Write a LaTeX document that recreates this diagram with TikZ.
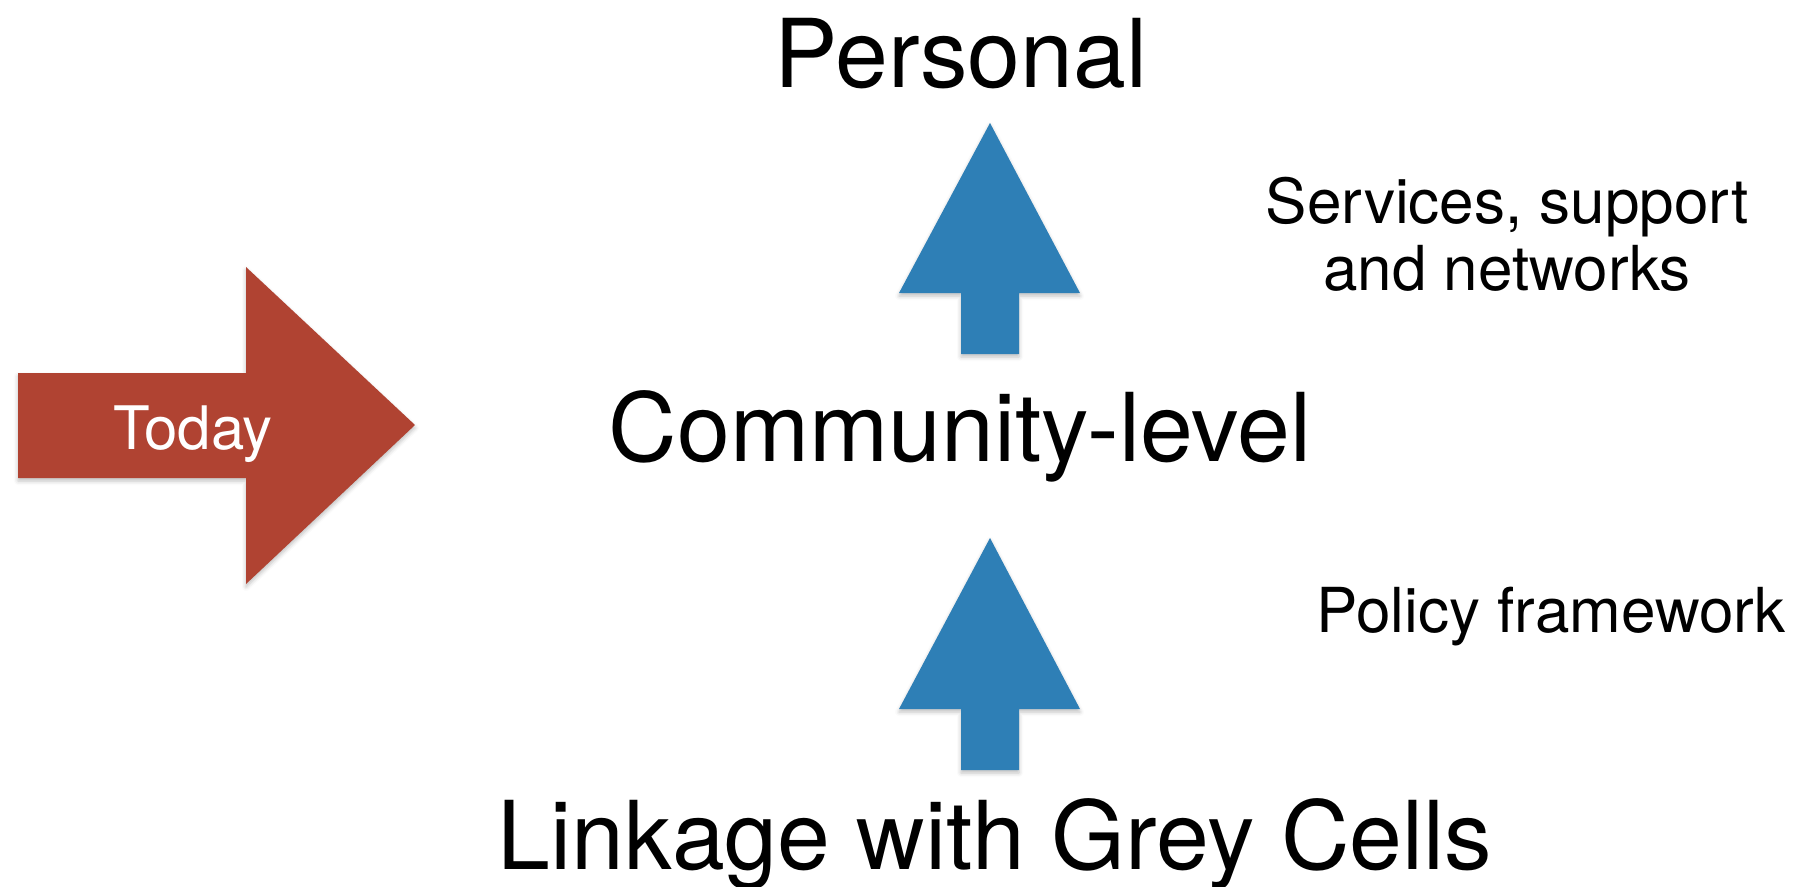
\documentclass[tikz,border=0pt]{standalone}
\usepackage{fontspec}
\setmainfont{TeX Gyre Heros}
\usetikzlibrary{shadows.blur}
\definecolor{todayred}{RGB}{176,67,50}
\definecolor{upblue}{RGB}{46,127,182}
\tikzset{
  bigtext/.style={anchor=base, inner sep=0pt, font=\fontsize{95}{100}\selectfont},
  smalltext/.style={anchor=base, inner sep=0pt, align=center, font=\fontsize{62}{67}\selectfont},
  block/.style={blur shadow={shadow xshift=0pt, shadow yshift=-3pt, shadow blur radius=4pt, shadow opacity=25}},
}
\begin{document}
\begin{tikzpicture}[x=1pt,y=-1pt]
\useasboundingbox (0,0) rectangle (1801,886);
% red arrow
\fill[todayred, block] (18,373) -- (246,373) -- (246,267) -- (415,425) -- (246,584) -- (246,478) -- (18,478) -- cycle;
\node[anchor=base, inner sep=0pt, text=white, font=\fontsize{60}{64}\selectfont] (today) at (193,449) {Today};
% blue arrows
\fill[upblue, block] (990,123) -- (1080,293) -- (1019,293) -- (1019,354) -- (961,354) -- (961,293) -- (899,293) -- cycle;
\fill[upblue, block] (990,538) -- (1080,709) -- (1019,709) -- (1019,770) -- (961,770) -- (961,709) -- (899,709) -- cycle;
% texts
\node[bigtext] (personal) at (961,87) {Personal};
\node[bigtext] (community) at (960,461) {Community-level};
\node[bigtext] (linkage) at (995,869) {Linkage with Grey Cells};
\node[smalltext] (services) at (1507,290) {Services, support\\and networks};
\node[smalltext] (policy) at (1551,632) {Policy framework};
\end{tikzpicture}
\end{document}
